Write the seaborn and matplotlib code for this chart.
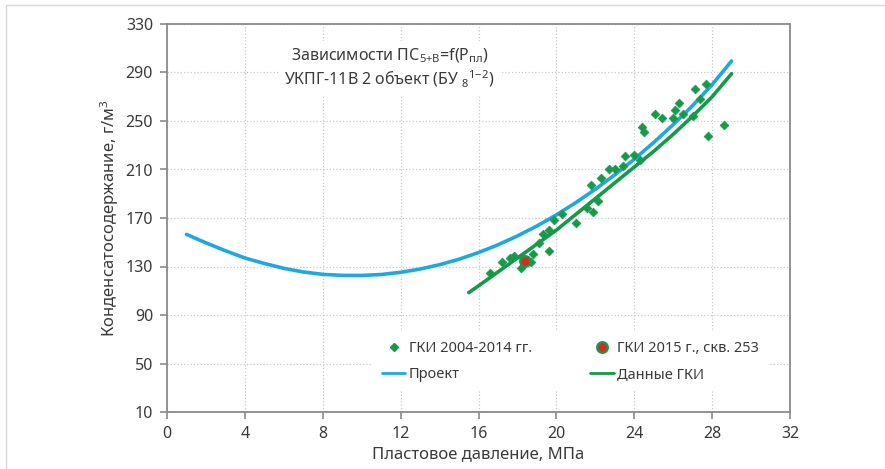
import matplotlib
matplotlib.use("Agg")
import matplotlib.pyplot as plt
import seaborn as sns
import pandas as pd
from matplotlib.patches import Rectangle
from matplotlib.lines import Line2D

# ---- data ----
proj_p = [1, 2, 3, 4, 5, 6, 7, 8, 9, 10, 11, 12, 13, 14, 15, 16, 17, 18, 19, 20,
          21, 22, 23, 24, 25, 26, 27, 28, 29]
proj_c = [156.5, 149.5, 143, 137, 132.5, 128.5, 125.5, 123.5, 122.7, 122.6, 123.4, 125.2,
          127.9, 131.5, 136, 141.5, 147.9, 155.2, 163.4, 172.6, 182.7, 193.7, 205.6,
          218.5, 232.3, 247, 262.7, 280, 299.5]

gki_fit_p = [15.5, 16, 17, 18, 19, 20, 21, 22, 23, 24, 25, 26, 27, 28, 29]
gki_fit_c = [108.5, 114, 125.5, 137, 148.5, 160, 173, 186, 199, 212, 225, 239, 254, 270, 289]

gki_p = [16.6, 17.2, 17.6, 17.8, 18.2, 18.3, 18.7, 18.8, 19.1, 19.3, 19.6, 19.6, 19.9,
         20.3, 21.0, 21.55, 21.8, 21.9, 22.15, 22.3, 22.7, 23.0, 23.4, 23.5, 24.0, 24.3,
         24.4, 24.5, 25.06, 25.4, 26.0, 26.1, 26.3, 26.5, 27.0, 27.1, 27.4, 27.7, 27.8, 28.6]
gki_c = [125, 134, 137, 139, 129, 137, 133.5, 140, 149, 157, 143, 160, 168,
         173, 166, 178, 197, 175, 184, 203, 210, 210, 213, 221, 222, 218,
         245, 241, 255.5, 252.7, 252.7, 259, 264.6, 256, 254, 276.4, 268, 280.5, 238, 247]

gki2015_p = [18.4]
gki2015_c = [134.5]

x_ticks = [0, 4, 8, 12, 16, 20, 24, 28, 32]
y_ticks = [10, 50, 90, 130, 170, 210, 250, 290, 330]

labels = ["ГКИ 2004-2014 гг.", "Проект", "ГКИ 2015 г., скв. 253", "Данные ГКИ"]
x_label = "Пластовое давление, МПа"
y_label = "Конденсатосодержание, г/м$\\mathregular{^3}$"
title_lines = ["Зависимости ПС$\\mathregular{_{5{+}В}}$=f(Р$\\mathregular{_{пл}}$)",
               "УКПГ-11В 2 объект (БУ $\\mathregular{_8}$$\\mathregular{^{1{-}2}}$)"]

# ---- styling ----
sns.set_style("ticks")
plt.rcParams["font.family"] = ["Noto Sans", "DejaVu Sans"]
plt.rcParams["mathtext.fontset"] = "dejavusans"

BLUE = "#1fa8e0"
GREEN = "#17994a"
RED = "#e0261f"
TXT = "#3a3a3a"

fig = plt.figure(figsize=(8.85, 4.69), dpi=100)
fig.patches.append(Rectangle((6 / 885, -0.1), 1.2, (469 - 5) / 469 + 0.1,
                             transform=fig.transFigure, fill=False,
                             edgecolor="#d6d6d6", linewidth=1.0))
ax = fig.add_axes([167 / 885, 57 / 469, 623 / 885, 388 / 469])

df_proj = pd.DataFrame({"p": proj_p, "c": proj_c})
df_fit = pd.DataFrame({"p": gki_fit_p, "c": gki_fit_c})
df_gki = pd.DataFrame({"p": gki_p, "c": gki_c})
df_2015 = pd.DataFrame({"p": gki2015_p, "c": gki2015_c})

sns.lineplot(data=df_proj, x="p", y="c", ax=ax, color=BLUE, linewidth=2.6, sort=False, zorder=3)
sns.lineplot(data=df_fit, x="p", y="c", ax=ax, color=GREEN, linewidth=2.6, sort=False, zorder=3)
sns.scatterplot(data=df_gki, x="p", y="c", ax=ax, marker="D", s=20, color=GREEN,
                edgecolor=GREEN, linewidth=0.5, zorder=4)
sns.scatterplot(data=df_2015, x="p", y="c", ax=ax, marker="o", s=55, color=RED,
                edgecolor=GREEN, linewidth=1.8, zorder=5)

ax.set_xlim(x_ticks[0], x_ticks[-1])
ax.set_ylim(y_ticks[0], y_ticks[-1])
ax.set_xticks(x_ticks)
ax.set_yticks(y_ticks)
ax.grid(True, color="#c9c9c9", linestyle=":", linewidth=0.9, zorder=0)
for s in ax.spines.values():
    s.set_visible(True)
    s.set_color("#8a8a8a")
    s.set_linewidth(1.3)
ax.tick_params(axis="both", direction="out", length=5, width=1.2, color="#8a8a8a",
               labelsize=11.5, labelcolor=TXT, pad=5)
ax.set_xlabel(x_label, fontsize=12, color=TXT, labelpad=3)
ax.set_ylabel(y_label, fontsize=12, color=TXT, labelpad=3)

ax.text(0.357, 0.885, title_lines[0] + "\n" + title_lines[1], transform=ax.transAxes,
        ha="center", va="center", fontsize=11.5, color=TXT, linespacing=1.25,
        bbox=dict(facecolor="white", edgecolor="none", pad=4), zorder=6)

handles = [
    Line2D([], [], linestyle="none", marker="D", markersize=4.5, color=GREEN),
    Line2D([], [], color=BLUE, linewidth=2),
    Line2D([], [], linestyle="none", marker="o", markersize=7.5, markerfacecolor=RED,
           markeredgecolor=GREEN, markeredgewidth=1.8),
    Line2D([], [], color=GREEN, linewidth=2),
]
leg = ax.legend(handles, labels, ncol=2, loc="center", bbox_to_anchor=(0.648, 0.131),
                frameon=True, facecolor="white", edgecolor="none", framealpha=1,
                fontsize=10.5, handlelength=1.6, handletextpad=0.25, columnspacing=4.0,
                labelspacing=0.75, borderpad=0.6, fancybox=False)
leg.set_zorder(6)
for t in leg.get_texts():
    t.set_color(TXT)

fig.savefig("out.png", dpi=100)
